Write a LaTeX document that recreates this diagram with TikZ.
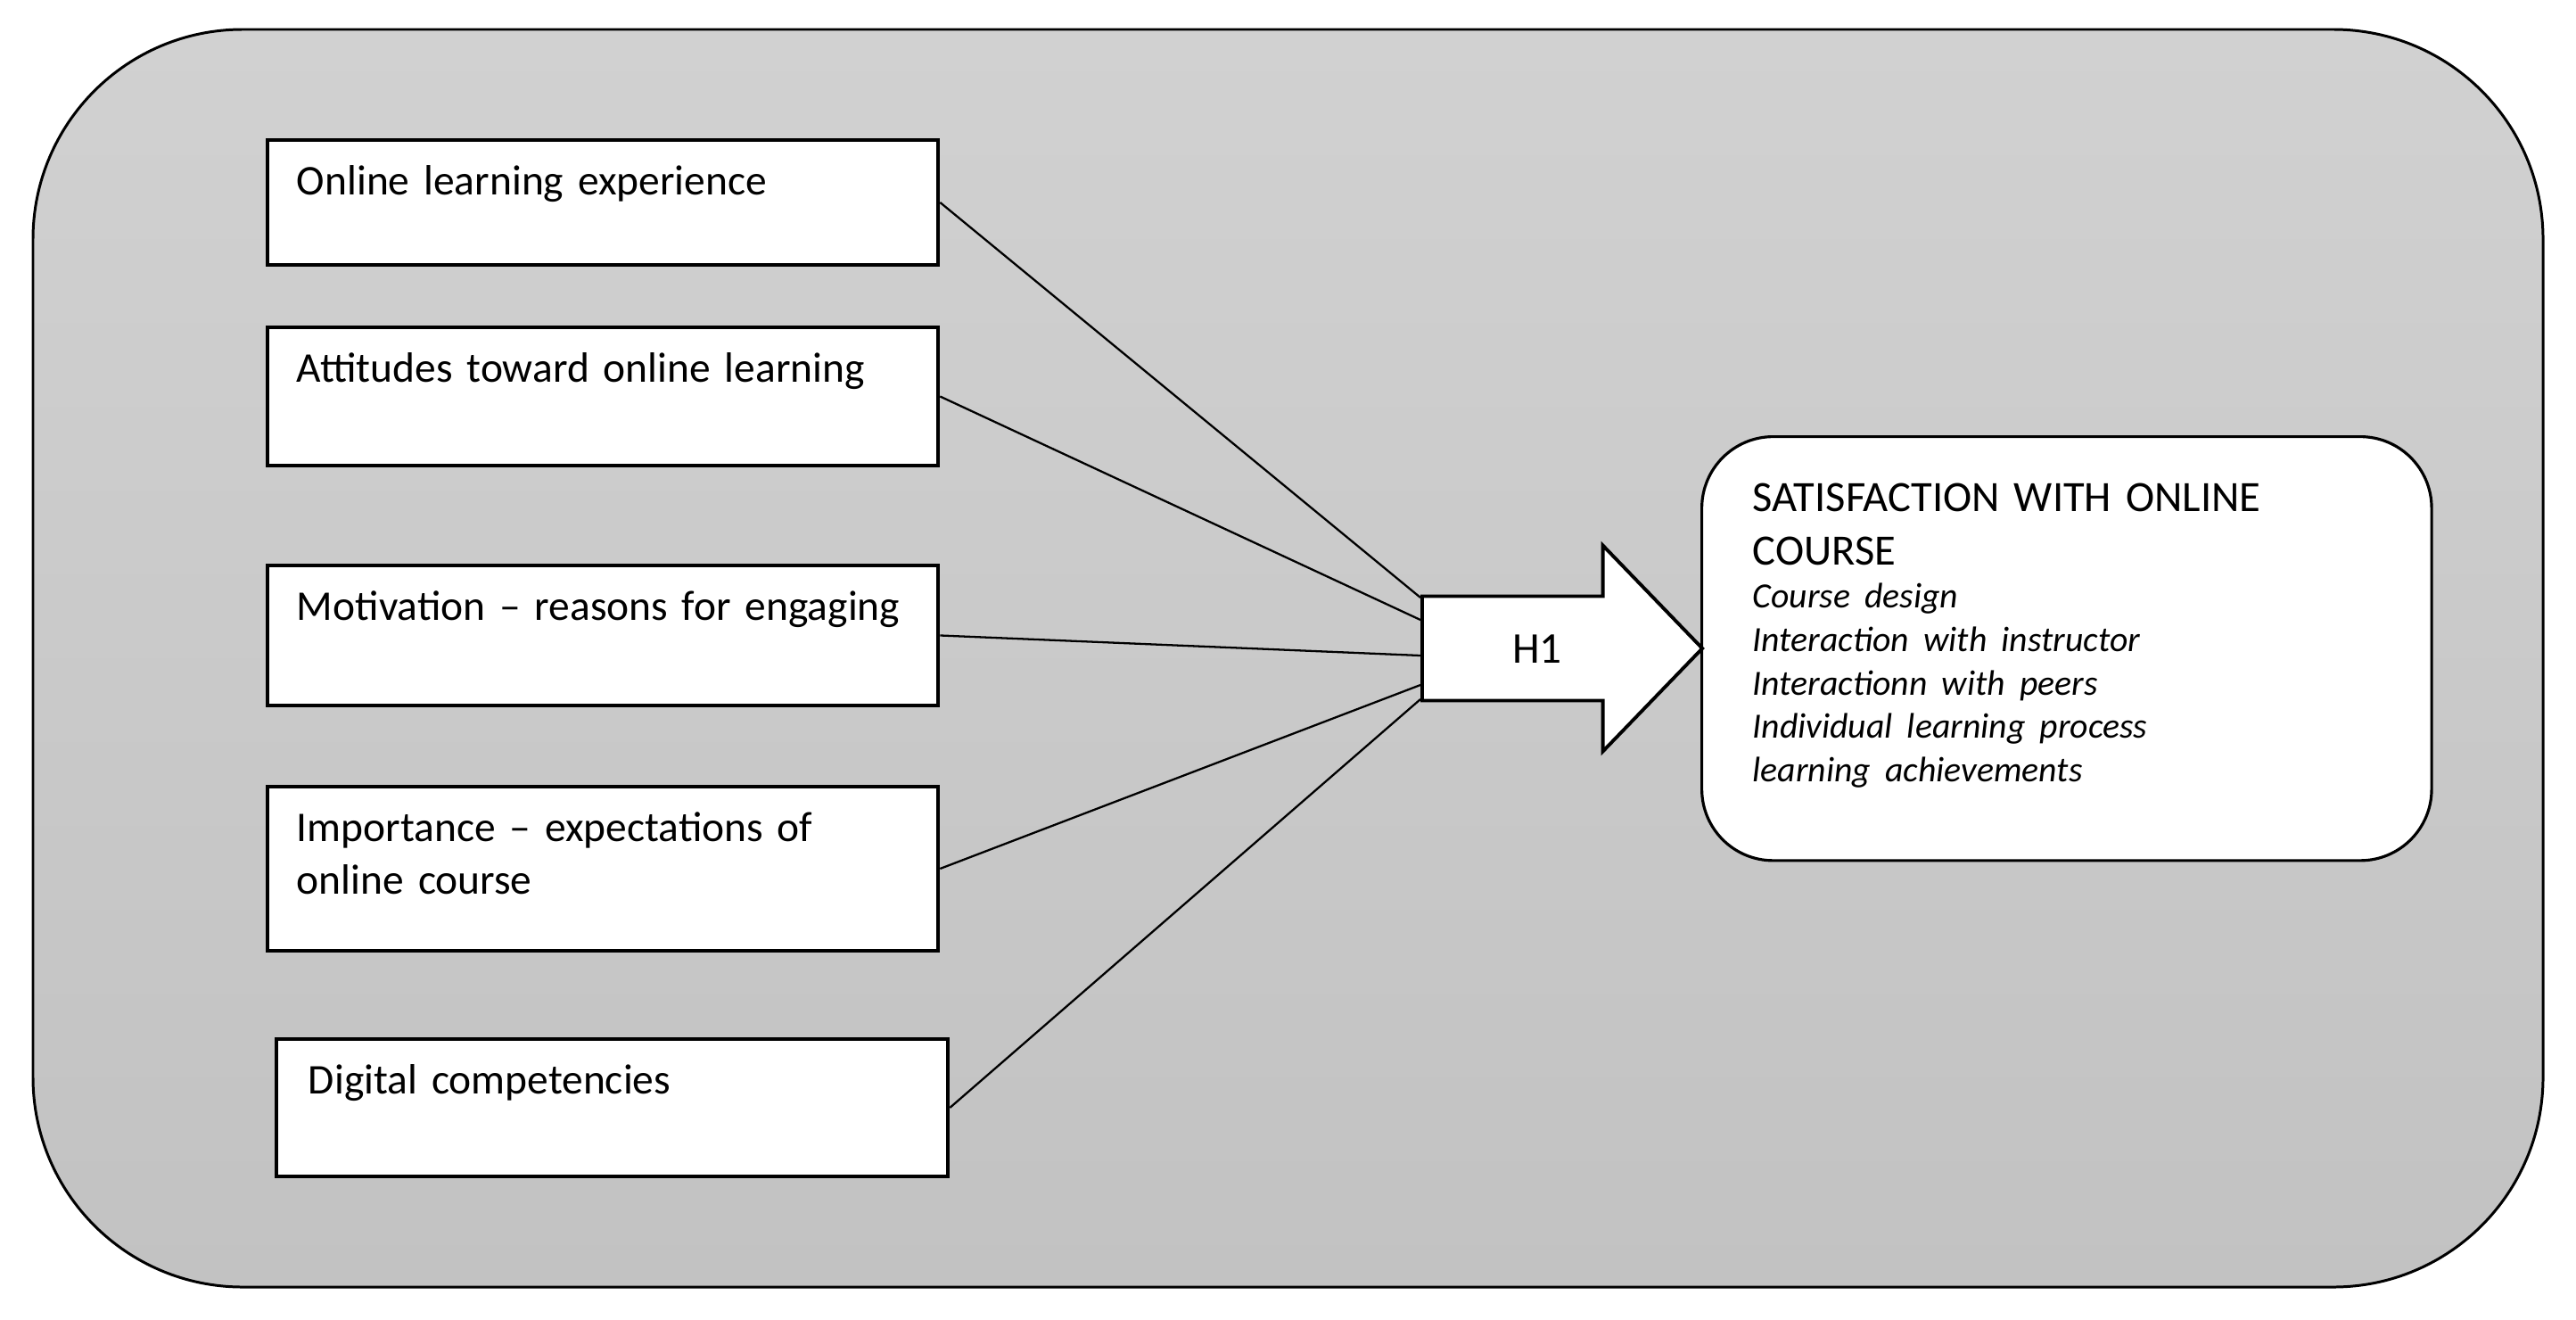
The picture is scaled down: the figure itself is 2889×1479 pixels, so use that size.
\documentclass[tikz,border=0pt]{standalone}
\usepackage{fontspec}
\setmainfont{Carlito}
\usetikzlibrary{shapes.arrows,calc}
\definecolor{frametop}{HTML}{D1D1D1}
\definecolor{framebot}{HTML}{C2C2C2}

\begin{document}
\begin{tikzpicture}[x=0.01cm, y=-0.01cm,
   factor/.style={draw,line width=1.1pt,fill=white,anchor=north west,inner xsep=0.33cm,inner ysep=0pt,
     text width=6.86cm,align=left,text height=0.62cm,font=\fontsize{13.5}{16.5}\selectfont},
   link/.style={line width=0.65pt}]
  \fill[white] (0,0) rectangle (2889,1479);
  \draw[line width=0.85pt,top color=frametop,bottom color=framebot,rounded corners=2.35cm] (37,33) rectangle (2852,1443);
  \node[factor,text depth=0.78cm] (oexp) at (298,155) {Online learning experience};
  \node[factor,text depth=0.93cm] (att) at (298,365) {Attitudes toward online learning};
  \node[factor,text depth=0.95cm] (motiv) at (298,632) {Motivation -- reasons for engaging};
  \node[factor,text depth=1.22cm] (imp) at (298,880) {Importance -- expectations of\\ online course};
  \node[factor,text depth=0.92cm,inner xsep=0.36cm,text width=6.81cm] (digi) at (308,1163) {Digital competencies};
  \node[draw,line width=0.9pt,fill=white,rounded corners=0.8cm,anchor=north west,inner xsep=0.57cm,inner ysep=0pt,
     text width=7.04cm,align=left,text height=0.84cm,text depth=3.91cm,font=\fontsize{13.8}{17}\selectfont] (satis) at (1907,488)
     {\lineskiplimit=-20pt SATISFACTION WITH ONLINE\\ COURSE\\ \fontsize{11.3}{13.8}\selectfont\itshape Course design\\
      Interaction with instructor\\ Interactionn with peers\\ Individual learning process\\ learning achievements\par};
  \node[single arrow,draw,fill=white,line width=1.1pt,anchor=tail,minimum height=3.14cm,single arrow head extend=0.57cm,
     single arrow tip angle=92,inner ysep=0.40cm,text height=0.33cm,text depth=0pt,font=\fontsize{14}{16}\selectfont] (hyp) at (1593,727) {H1};
  \draw[link] (oexp.east) -- ($(hyp.tail)+(0,-57)$);
  \draw[link] (att.east) -- ($(hyp.tail)+(0,-32)$);
  \draw[link] (motiv.east) -- ($(hyp.tail)+(0,8)$);
  \draw[link] (imp.east) -- ($(hyp.tail)+(0,41)$);
  \draw[link] (digi.east) -- ($(hyp.tail)+(0,57)$);
\end{tikzpicture}
\end{document}
